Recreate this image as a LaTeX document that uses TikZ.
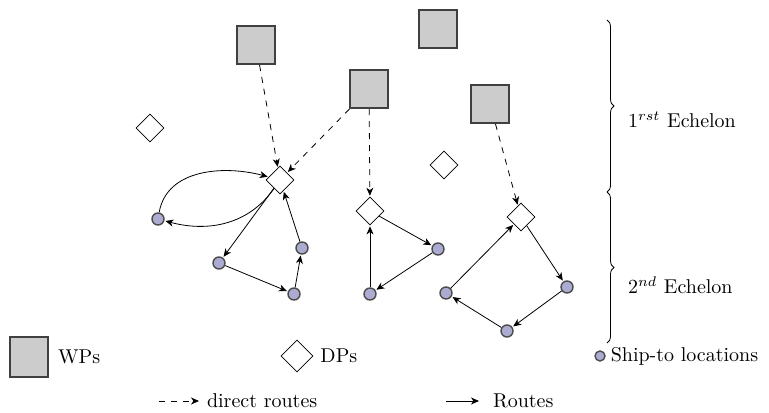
\documentclass[tikz,border=0pt]{standalone}
\usepackage{amsmath}
\usepackage{amssymb}
\usepackage{tikz}
\usepackage{xcolor}
\usetikzlibrary{shapes.geometric,arrows.meta,decorations.pathreplacing}
\definecolor{shipblue}{RGB}{172,172,210}
\tikzset{
    wp-box/.style = {draw=black!75, fill=gray!40, line width=1.1pt, rectangle, minimum size=19pt, inner sep=0pt},
    dp-diamond/.style = {draw=black, fill=white, thin, diamond, minimum size=14pt, inner sep=0pt},
    ship-dot/.style = {draw=black!70, fill=shipblue, line width=0.7pt, circle, minimum size=6pt, inner sep=0pt},
    route/.style = {thin, -{Stealth[length=4pt, width=3.5pt, inset=1.2pt]}, shorten >=0.5pt},
    direct-route/.style = {route, dashed},
}

\begin{document}
\begin{tikzpicture}[x=0.5pt, y=0.5pt]
\useasboundingbox (0,0) rectangle (769,412);

\node [wp-box] (wp1) at (256,367) {};
\node [wp-box] (wp2) at (438,383) {};
\node [wp-box] (wp3) at (369,323) {};
\node [wp-box] (wp4) at (490,308) {};

\node [dp-diamond] (dp1) at (150,284) {};
\node [dp-diamond] (dp2) at (444,247) {};
\node [dp-diamond] (dpA) at (280,232) {};
\node [dp-diamond] (dpB) at (370,201) {};
\node [dp-diamond] (dpC) at (521,195) {};

\node [ship-dot] (s1) at (158,193) {};
\node [ship-dot] (s2) at (219,149) {};
\node [ship-dot] (s3) at (294,118) {};
\node [ship-dot] (s4) at (302,164) {};
\node [ship-dot] (s5) at (438,163) {};
\node [ship-dot] (s6) at (370,118) {};
\node [ship-dot] (s7) at (446,119) {};
\node [ship-dot] (s8) at (567,125) {};
\node [ship-dot] (s9) at (507,81) {};

\draw [direct-route] (wp1) -- (dpA);
\draw [direct-route] (wp3) -- (dpA);
\draw [direct-route] (wp3) -- (dpB);
\draw [direct-route] (wp4) -- (dpC);

\draw [route] (s1) to[out=80, in=165] (dpA);
\draw [route] (dpA) to[out=235, in=-15] (s1);
\draw [route] (dpA) -- (s2);
\draw [route] (s2) -- (s3);
\draw [route] (s3) -- (s4);
\draw [route] (s4) -- (dpA);
\draw [route] (dpB) -- (s5);
\draw [route] (s5) -- (s6);
\draw [route] (s6) -- (dpB);
\draw [route] (dpC) -- (s8);
\draw [route] (s8) -- (s9);
\draw [route] (s9) -- (s7);
\draw [route] (s7) -- (dpC);

\draw [decorate, decoration={brace, amplitude=3.5pt}] (607,392) -- (607,220);
\draw [decorate, decoration={brace, amplitude=3.5pt}] (607,220) -- (607,69);
\node [anchor=west] (echelon1) at (621,292) {$1^{rst}$ Echelon};
\node [anchor=west] (echelon2) at (621,127) {$2^{nd}$ Echelon};

\node [wp-box, minimum height=20pt] (wp-key) at (29,55) {};
\node [right=1pt] (wp-key-text) at (wp-key.east) {WPs};
\node [dp-diamond, minimum size=16pt] (dp-key) at (297,56) {};
\node [right=0pt] (dp-key-text) at (dp-key.east) {DPs};
\node [ship-dot, minimum size=5pt] (ship-key) at (600,56) {};
\node [right=-1pt] (ship-key-text) at (ship-key.east) {Ship-to locations};

\coordinate (direct-key-a) at (159,11);
\coordinate (direct-key-b) at (200,11);
\draw [direct-route] (direct-key-a) -- (direct-key-b);
\node [right] (direct-key-text) at (direct-key-b) {direct routes};
\coordinate (route-key-a) at (446,11);
\coordinate (route-key-b) at (480,11);
\draw [route] (route-key-a) -- (route-key-b);
\node [right=3pt] (route-key-text) at (route-key-b) {Routes};
\end{tikzpicture}
\end{document}
